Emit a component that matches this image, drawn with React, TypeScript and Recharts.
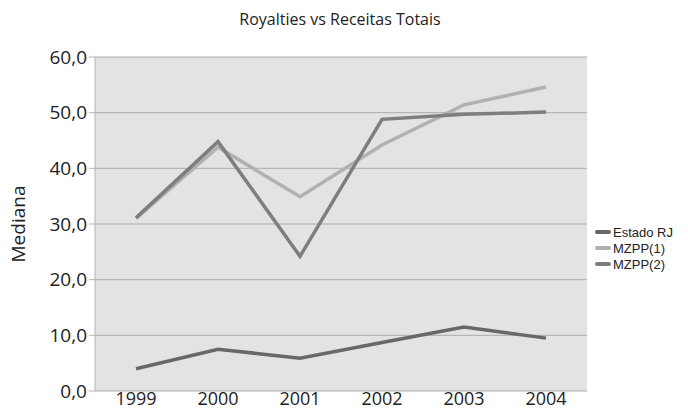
import React from 'react'
import { LineChart, Line, XAxis, YAxis, CartesianGrid, Legend } from 'recharts'

document.body.style.margin = '0'

const years = ['1999', '2000', '2001', '2002', '2003', '2004']
const estadoRJ = [4.0, 7.5, 5.9, 8.7, 11.5, 9.5]
const mzpp1 = [31.0, 43.8, 34.9, 44.2, 51.4, 54.6]
const mzpp2 = [31.1, 44.8, 24.2, 48.8, 49.7, 50.1]
const yTicks = [0, 10, 20, 30, 40, 50, 60]
const edgeTicks = [0, 1, 2, 3, 4, 5, 6]

const series = [
  { key: 'estadoRJ', name: 'Estado RJ', color: '#686868' },
  { key: 'mzpp1', name: 'MZPP(1)', color: '#b1b1b1' },
  { key: 'mzpp2', name: 'MZPP(2)', color: '#7e7e7e' },
]

const data = years.map((year, i) => ({
  year,
  estadoRJ: estadoRJ[i],
  mzpp1: mzpp1[i],
  mzpp2: mzpp2[i],
}))

const font = '"Open Sans", sans-serif'

function LegendBox() {
  return (
    <div style={{ fontFamily: '"Liberation Sans", Arial, sans-serif', fontSize: 13, color: '#222' }}>
      {series.map(s => (
        <div key={s.key} style={{ display: 'flex', alignItems: 'center', height: 16 }}>
          <div style={{ width: 16, height: 4, background: s.color, marginRight: 2, borderRadius: 2 }} />
          <span style={{ lineHeight: '15px' }}>{s.name}</span>
        </div>
      ))}
    </div>
  )
}

export default function App() {
  return (
    <div style={{ position: 'relative', width: 688, height: 417, background: '#fff' }}>
      <div
        style={{
          position: 'absolute', top: 8, left: 0, width: 680, textAlign: 'center',
          fontFamily: font, fontSize: 16, color: '#222',
        }}
      >
        Royalties vs Receitas Totais
      </div>
      <LineChart
        width={688}
        height={417}
        data={data}
        margin={{ top: 57, right: 101, left: 0, bottom: 0 }}
      >
        <CartesianGrid vertical={false} stroke="#ababab" fill="#e3e3e5" />
        <XAxis
          xAxisId="edges"
          type="number"
          domain={[0, 6]}
          ticks={edgeTicks}
          height={0}
          tick={() => null}
          tickSize={5}
          tickLine={{ stroke: '#b5b5b5' }}
          axisLine={{ stroke: '#b5b5b5' }}
        />
        <XAxis
          dataKey="year"
          height={26}
          padding={{ left: 41, right: 41 }}
          tickLine={false}
          axisLine={false}
          tickSize={0}
          tickMargin={1}
          tick={{ fontFamily: font, fontSize: 18, fill: '#222' }}
        />
        <YAxis
          width={95}
          domain={[0, 60]}
          ticks={yTicks}
          interval={0}
          tickFormatter={(v: number) => v.toFixed(1).replace('.', ',')}
          tick={{ fontFamily: font, fontSize: 19, fill: '#222' }}
          tickLine={{ stroke: '#b5b5b5' }}
          tickSize={6}
          axisLine={{ stroke: '#b5b5b5' }}
          label={{
            value: 'Mediana', angle: -90, position: 'insideLeft', offset: 18,
            fontSize: 19, fontFamily: font, fill: '#222',
            style: { textAnchor: 'middle', fontFamily: font, fontSize: 19, fill: '#222' },
          }}
        />
        <Legend
          layout="vertical"
          align="center"
          verticalAlign="middle"
          content={() => <LegendBox />}
          wrapperStyle={{ left: 595, top: 224, width: 93 }}
        />
        {series.map(s => (
          <Line
            key={s.key}
            dataKey={s.key}
            name={s.name}
            stroke={s.color}
            strokeWidth={3.5}
            dot={false}
            activeDot={false}
            isAnimationActive={false}
          />
        ))}
      </LineChart>
    </div>
  )
}
